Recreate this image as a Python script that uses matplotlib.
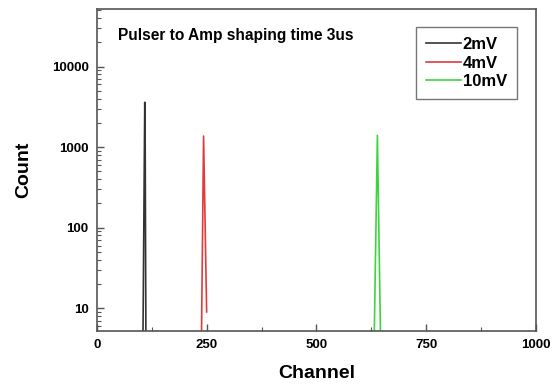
import numpy as np
import matplotlib.pyplot as plt
from matplotlib.ticker import FixedLocator, LogLocator, NullFormatter, MultipleLocator

plt.rcParams['font.family'] = ['Liberation Sans', 'DejaVu Sans']

# Data
ch_2mv = [104, 109, 110, 112, 114]
cnt_2mv = [1, 3600, 1000, 1, 1]
ch_4mv = [237, 243, 250]
cnt_4mv = [1, 1370, 9]
ch_10mv = [630, 639, 648]
cnt_10mv = [1, 1400, 1]

x_ticks = [0, 250, 500, 750, 1000]
y_ticks = [10, 100, 1000, 10000]

fig = plt.figure(figsize=(5.57, 3.85), dpi=100)
ax = fig.add_axes([0.174, 0.140, 0.788, 0.837])

ax.plot(ch_2mv, cnt_2mv, color='#333333', linewidth=1.2, label='2mV')
ax.plot(ch_4mv, cnt_4mv, color='#e03a3a', linewidth=1.2, label='4mV')
ax.plot(ch_10mv, cnt_10mv, color='#3ed43e', linewidth=1.2, label='10mV')

ax.set_yscale('log')
ax.set_xlim(0, 1000)
ax.set_ylim(5.2, 52000)

ax.xaxis.set_major_locator(FixedLocator(x_ticks))
ax.xaxis.set_minor_locator(MultipleLocator(125))
ax.yaxis.set_major_locator(FixedLocator(y_ticks))
ax.yaxis.set_minor_locator(LogLocator(base=10, subs=np.arange(2, 10)))
ax.yaxis.set_minor_formatter(NullFormatter())
ax.set_xticklabels([str(t) for t in x_ticks], fontsize=9.5, fontweight='bold')
ax.set_yticklabels([str(t) for t in y_ticks], fontsize=9.5, fontweight='bold')

ax.tick_params(which='both', direction='in', top=False, right=False, color='#555555')
ax.tick_params(which='major', length=5, width=1, pad=6)
ax.tick_params(which='minor', length=3, width=0.8)
for s in ax.spines.values():
    s.set_color('#555555')
    s.set_linewidth(1.2)

ax.set_xlabel('Channel', fontsize=14, fontweight='bold', labelpad=10)
ax.set_ylabel('Count', fontsize=14, fontweight='bold', labelpad=14)

ax.text(0.048, 0.918, 'Pulser to Amp shaping time 3us', transform=ax.transAxes,
        fontsize=11.2, fontweight='bold', va='center')

leg = ax.legend(loc='upper right', bbox_to_anchor=(0.957, 0.944), borderaxespad=0,
                fancybox=False, prop={'weight': 'bold', 'size': 12}, handlelength=2.1,
                labelspacing=0.22, borderpad=0.6, handletextpad=0.1)
leg.get_frame().set_edgecolor('#555555')
leg.get_frame().set_linewidth(1.0)

fig.savefig('out.png', dpi=100)
